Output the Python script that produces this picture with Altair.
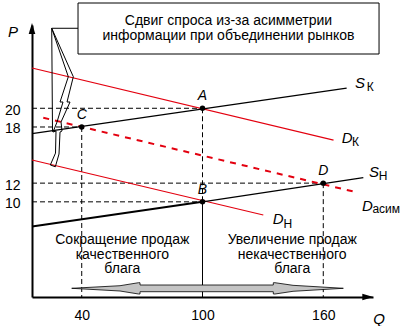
import altair as alt
import pandas as pd

FONT = "Liberation Sans"
RED = "#e3000f"

# scale extents (axis origin is not at zero)
Q_MIN, Q_MAX = 15.3, 184.7
P_MIN, P_MAX = -0.17, 28.9

# ---- curves: endpoints ----
curve_name = ["S_K", "D_K", "D_asym", "S_H_low", "S_H_high", "D_H"]
curve_style = ["black", "red", "reddash", "blackthick", "black", "red"]
curve_q1 = [15.3, 15.3, 20.9, 15.3, 100, 15.3]
curve_p1 = [17.3, 24.3, 18.99, 7.36, 10, 14.47]
curve_q2 = [171.6, 165.1, 176.6, 100, 179.9, 130.2]
curve_p2 = [22.15, 16.6, 11.02, 10, 12.58, 8.59]

# ---- equilibrium points ----
pt_name = ["A", "B", "C", "D"]
pt_q = [100, 100, 40, 160]
pt_p = [20, 10, 18, 12]

# ---- curve labels (main letter + subscript) ----
lab_main = ["S", "D", "S", "D", "D"]
lab_main_q = [175.8, 169.2, 182.7, 179.2, 134.9]
lab_main_p = [22.7, 16.82, 13.24, 9.55, 8.16]
lab_sub = ["К", "К", "Н", "асим", "Н"]
lab_sub_q = [181.6, 174.3, 187.6, 184.4, 140.3]
lab_sub_p = [22.3, 16.35, 12.8, 9.2, 7.6]

# ---- tick values ----
x_ticks = [40, 100, 160]
y_ticks = [10, 12, 18, 20]

# ---- annotation texts ----
box_text = "Сдвиг спроса из-за асимметрии\nинформации при объединении рынков"
box_q, box_p = 112.9, 29.33
box_q1, box_q2, box_p1, box_p2 = 38.16, 187.7, 31.25, 25.8

left_text = "Сокращение продаж\nкачественного\nблага"
right_text = "Увеличение продаж\nнекачественного\nблага"
left_q, right_q = 60.17, 144.57
block_p = 5.92

# callout lightning shape
call_q = [25.10, 35.83, 32.70, 34.19, 29.72, 30.21, 29.22, 28.72, 26.89,
          24.40, 26.98, 27.23, 25.74, 27.73, 30.71, 29.22, 33.34, 25.10]
call_p = [28.55, 23.37, 20.67, 20.67, 18.53, 17.57, 17.46, 15.11, 13.75,
          13.94, 15.21, 17.57, 17.46, 18.53, 20.67, 20.67, 23.37, 28.55]
call_extra_q1 = [25.10, 25.10]
call_extra_p1 = [28.55, 28.55]
call_extra_q2 = [25.49, 38.16]
call_extra_p2 = [17.49, 28.55]

# double block arrow outline (x, top, bottom)
arr_q = [35.03, 59.03, 68.22, 68.95, 68.97, 135.17, 135.19, 136.03, 144.97, 169.96]
arr_top = [0.759, 1.037, 1.357, 1.357, 1.111, 1.111, 1.357, 1.357, 1.079, 0.759]
arr_bot = [0.759, 0.470, 0.150, 0.150, 0.395, 0.395, 0.150, 0.150, 0.438, 0.759]

# ================= build tables =================
curves = pd.DataFrame(dict(name=curve_name, style=curve_style,
                           q1=curve_q1, p1=curve_p1, q2=curve_q2, p2=curve_p2))
pts = pd.DataFrame(dict(name=pt_name, q=pt_q, p=pt_p))

guide_rows = []
for n, q, p in zip(pt_name, pt_q, pt_p):
    guide_rows.append(dict(q1=Q_MIN, p1=p, q2=q, p2=p, style="dash"))
for n, q, p in zip(pt_name, pt_q, pt_p):
    if n == "A":
        guide_rows.append(dict(q1=q, p1=p, q2=q, p2=10, style="dash"))
    elif n == "B":
        guide_rows.append(dict(q1=q, p1=p, q2=q, p2=P_MIN, style="solid"))
    else:
        guide_rows.append(dict(q1=q, p1=p, q2=q, p2=P_MIN, style="dash"))
guides = pd.DataFrame(guide_rows)

mains = pd.DataFrame(dict(t=lab_main, q=lab_main_q, p=lab_main_p))
subs = pd.DataFrame(dict(t=lab_sub, q=lab_sub_q, p=lab_sub_p))
boxtxt = pd.DataFrame(dict(t=[box_text], q=[box_q], p=[box_p]))
boxdf = pd.DataFrame(dict(q1=[box_q1], q2=[box_q2], p1=[box_p1], p2=[box_p2]))
blocks = pd.DataFrame(dict(t=[left_text, right_text], q=[left_q, right_q],
                           p=[block_p, block_p]))
call = pd.DataFrame(dict(q=call_q, p=call_p, o=list(range(len(call_q)))))
call_extra = pd.DataFrame(dict(q1=call_extra_q1, p1=call_extra_p1,
                               q2=call_extra_q2, p2=call_extra_p2))
arrow = pd.DataFrame(dict(q=arr_q, top=arr_top, bot=arr_bot))
axis_lab = pd.DataFrame(dict(t=["P", "Q"], q=[5.87, 187.7], p=[28.1, -2.52]))
arrowheads = pd.DataFrame(dict(q=[Q_MIN, 184.86], p=[29.11, P_MIN],
                               s=["M0,0L-0.3,1L0.3,1Z", "M0,0L-1,-0.3L-1,0.3Z"]))

xscale = alt.Scale(domain=[Q_MIN, Q_MAX], nice=False, zero=False)
yscale = alt.Scale(domain=[P_MIN, P_MAX], nice=False, zero=False)
xaxis = alt.Axis(values=x_ticks, title=None, ticks=False, grid=False,
                 domainColor="black", domainWidth=2, labelFontSize=14,
                 labelFont=FONT, labelColor="black", labelPadding=11,
                 labelFlush=False)
yaxis = alt.Axis(values=y_ticks, title=None, ticks=False, grid=False,
                 domainColor="black", domainWidth=2, labelFontSize=14,
                 labelFont=FONT, labelColor="black", labelPadding=12,
                 labelOffset=2)


def X(f):
    return alt.X(f, type="quantitative", scale=xscale, axis=xaxis)


def Y(f):
    return alt.Y(f, type="quantitative", scale=yscale, axis=yaxis)


def seg(df, **mk):
    return alt.Chart(df).mark_rule(**mk).encode(
        x=X("q1"), y=Y("p1"), x2="q2", y2="p2")


layers = []
# guides
layers.append(seg(guides[guides["style"] == "dash"], color="black",
                  strokeWidth=1, strokeDash=[5, 3]))
layers.append(seg(guides[guides["style"] == "solid"], color="black", strokeWidth=1))
# curves
layers.append(seg(curves[curves["style"] == "red"], color=RED, strokeWidth=1.2))
layers.append(seg(curves[curves["style"] == "reddash"], color=RED,
                  strokeWidth=2, strokeDash=[6, 6]))
layers.append(seg(curves[curves["style"] == "black"], color="black", strokeWidth=1.3))
layers.append(seg(curves[curves["style"] == "blackthick"], color="black", strokeWidth=2))

# callout
layers.append(alt.Chart(call).mark_line(color="black", strokeWidth=1).encode(
    x=X("q"), y=Y("p"), order="o:Q"))
layers.append(seg(call_extra, color="black", strokeWidth=1))
layers.append(alt.Chart(boxdf).mark_rect(fill="white", stroke="black", strokeWidth=1).encode(
    x=X("q1"), x2="q2", y=Y("p1"), y2="p2"))
layers.append(alt.Chart(boxtxt).mark_text(font=FONT, fontSize=14, color="black",
                                          baseline="middle", align="center",
                                          lineBreak="\n", lineHeight=15).encode(
    x=X("q"), y=Y("p"), text="t"))

# block double arrow
layers.append(alt.Chart(arrow).mark_area(fill="#c4c4c4", stroke="black",
                                         strokeWidth=0.8, opacity=1).encode(
    x=X("q"), y=Y("top"), y2="bot"))

# points
layers.append(alt.Chart(pts).mark_circle(color="black", size=30, opacity=1).encode(
    x=X("q"), y=Y("p")))
layers.append(alt.Chart(pts).mark_text(font=FONT, fontSize=14, fontStyle="italic",
                                       color="black", dy=-12, baseline="middle").encode(
    x=X("q"), y=Y("p"), text="name"))

# curve labels
layers.append(alt.Chart(mains).mark_text(font=FONT, fontSize=15, fontStyle="italic",
                                         color="black", align="left", baseline="middle").encode(
    x=X("q"), y=Y("p"), text="t"))
layers.append(alt.Chart(subs).mark_text(font=FONT, fontSize=12, color="black",
                                        align="left", baseline="middle").encode(
    x=X("q"), y=Y("p"), text="t"))

# text blocks
layers.append(alt.Chart(blocks).mark_text(font=FONT, fontSize=14, color="black",
                                          align="center", baseline="middle",
                                          lineBreak="\n", lineHeight=14.5).encode(
    x=X("q"), y=Y("p"), text="t"))

# axis titles and arrowheads
layers.append(alt.Chart(axis_lab).mark_text(font=FONT, fontSize=15, fontStyle="italic",
                                            color="black", align="center", baseline="middle").encode(
    x=X("q"), y=Y("p"), text="t"))
layers.append(alt.Chart(arrowheads).mark_point(filled=True, color="black", size=484,
                                               opacity=1, strokeWidth=0).encode(
    x=X("q"), y=Y("p"), shape=alt.Shape("s:N", scale=None)))

chart = alt.layer(*layers).properties(
    width=341, height=272,
    autosize=alt.AutoSizeParams(type="none"),
    padding={"left": 32, "top": 25, "right": 29, "bottom": 29},
    background="white",
).configure_view(stroke=None)

chart.save("out.html", embed_options={"renderer": "svg", "actions": False})
